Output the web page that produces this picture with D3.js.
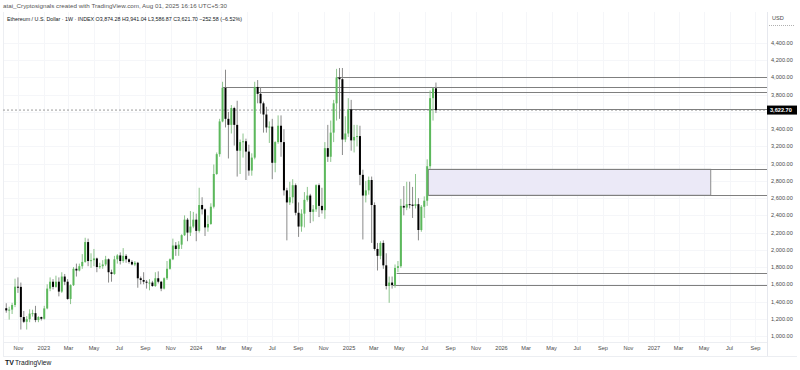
<!DOCTYPE html>
<html><head><meta charset="utf-8">
<script src="https://cdn.jsdelivr.net/npm/d3@7/dist/d3.min.js"></script>
<style>
body{margin:0;background:#fff}
svg{display:block;font-family:"Liberation Sans",Arial,sans-serif}
</style>
</head><body>
<svg id="chart" width="800" height="370"></svg>
<script>
// ---------- DATA ----------
const weeks = [
 "2022-10-03","2022-10-10","2022-10-17","2022-10-24","2022-10-31","2022-11-07","2022-11-14","2022-11-21","2022-11-28","2022-12-05","2022-12-12","2022-12-19","2022-12-26",
 "2023-01-02","2023-01-09","2023-01-16","2023-01-23","2023-01-30","2023-02-06","2023-02-13","2023-02-20","2023-02-27","2023-03-06","2023-03-13","2023-03-20","2023-03-27","2023-04-03","2023-04-10","2023-04-17","2023-04-24","2023-05-01","2023-05-08","2023-05-15","2023-05-22","2023-05-29","2023-06-05","2023-06-12","2023-06-19","2023-06-26","2023-07-03","2023-07-10","2023-07-17","2023-07-24","2023-07-31","2023-08-07","2023-08-14","2023-08-21","2023-08-28","2023-09-04","2023-09-11","2023-09-18","2023-09-25","2023-10-02","2023-10-09","2023-10-16","2023-10-23","2023-10-30","2023-11-06","2023-11-13","2023-11-20","2023-11-27","2023-12-04","2023-12-11","2023-12-18","2023-12-25",
 "2024-01-01","2024-01-08","2024-01-15","2024-01-22","2024-01-29","2024-02-05","2024-02-12","2024-02-19","2024-02-26","2024-03-04","2024-03-11","2024-03-18","2024-03-25","2024-04-01","2024-04-08","2024-04-15","2024-04-22","2024-04-29","2024-05-06","2024-05-13","2024-05-20","2024-05-27","2024-06-03","2024-06-10","2024-06-17","2024-06-24","2024-07-01","2024-07-08","2024-07-15","2024-07-22","2024-07-29","2024-08-05","2024-08-12","2024-08-19","2024-08-26","2024-09-02","2024-09-09","2024-09-16","2024-09-23","2024-09-30","2024-10-07","2024-10-14","2024-10-21","2024-10-28","2024-11-04","2024-11-11","2024-11-18","2024-11-25","2024-12-02","2024-12-09","2024-12-16","2024-12-23","2024-12-30",
 "2025-01-06","2025-01-13","2025-01-20","2025-01-27","2025-02-03","2025-02-10","2025-02-17","2025-02-24","2025-03-03","2025-03-10","2025-03-17","2025-03-24","2025-03-31","2025-04-07","2025-04-14","2025-04-21","2025-04-28","2025-05-05","2025-05-12","2025-05-19","2025-05-26","2025-06-02","2025-06-09","2025-06-16","2025-06-23","2025-06-30","2025-07-07","2025-07-14","2025-07-21","2025-07-28"
];
const open = [
 1322,1297,1306,1360,1572,1570,1220,1165,1195,1260,1265,1185,1220,
 1200,1320,1550,1630,1570,1630,1515,1690,1630,1430,1590,1780,1760,1810,1860,2090,1870,1880,1900,1800,1810,1830,1890,1740,1720,1890,1935,1870,1930,1890,1860,1830,1850,1670,1650,1630,1620,1620,1580,1670,1630,1550,1670,1780,1890,2050,2010,2060,2170,2350,2200,2270,
 2350,2220,2520,2470,2260,2300,2500,2880,3110,3490,3880,3520,3450,3645,3450,3150,3250,3260,3140,2920,3070,3890,3810,3700,3570,3420,3430,3010,3250,3440,3250,2690,2550,2610,2750,2430,2270,2420,2580,2630,2440,2470,2750,2510,2460,3180,3080,3360,3700,4000,3980,3280,3350,
 3630,3270,3310,3320,2870,2630,2690,2810,2520,2010,1930,2080,1820,1580,1620,1590,1790,1810,2510,2490,2530,2525,2510,2530,2230,2500,2570,2970,3760,3874.28
];
const high = [
 1380,1340,1385,1665,1680,1620,1290,1230,1310,1305,1350,1230,1225,
 1350,1600,1680,1660,1700,1680,1740,1720,1660,1600,1800,1840,1840,1950,2140,2130,1960,2010,1910,1850,1880,1930,1900,1770,1930,1950,1970,2020,1950,1900,1880,1870,1860,1690,1740,1650,1660,1640,1740,1750,1640,1680,1870,1900,2130,2090,2100,2180,2400,2370,2450,2440,
 2420,2720,2610,2480,2400,2540,2990,3130,3520,3950,4090,3600,3680,3660,3730,3280,3350,3290,3220,3120,3950,3970,3890,3720,3660,3490,3520,3260,3560,3560,3400,2720,2790,2820,2770,2550,2470,2670,2730,2650,2520,2760,2770,2720,3250,3450,3500,3740,4100,4110,4110,3550,3760,
 3740,3450,3450,3440,2930,2800,2850,2850,2550,2080,2100,2110,1960,1690,1690,1830,1870,2590,2740,2790,2790,2730,2880,2600,2520,2620,3050,3850,3880,3941.04
];
const low = [
 1270,1190,1255,1335,1500,1075,1150,1075,1160,1225,1160,1160,1180,
 1190,1310,1520,1540,1560,1460,1500,1590,1420,1370,1580,1690,1750,1780,1850,1810,1790,1810,1740,1780,1780,1810,1620,1630,1710,1840,1830,1850,1850,1840,1820,1810,1560,1600,1600,1550,1530,1570,1570,1610,1520,1540,1650,1770,1880,1930,1930,2010,2160,2100,2160,2250,
 2100,2200,2410,2160,2210,2290,2480,2870,3080,3480,3420,3060,3350,3210,2850,2880,3070,2810,2860,2860,3050,3700,3580,3360,3360,3240,2820,2900,3230,3080,2630,2110,2520,2540,2400,2150,2210,2260,2560,2310,2330,2440,2380,2420,2360,3020,3020,3250,3500,3520,3100,3250,3310,
 3150,3130,3200,2750,2120,2550,2640,2080,1990,1760,1890,1780,1540,1385,1550,1560,1740,1790,2400,2460,2480,2370,2480,2110,2210,2370,2510,2940,3500,3586.87
];
const close = [
 1297,1306,1360,1572,1570,1220,1165,1195,1260,1265,1185,1220,1200,
 1320,1550,1630,1570,1630,1515,1690,1630,1430,1590,1780,1760,1810,1860,2090,1870,1880,1900,1800,1810,1830,1890,1740,1720,1890,1935,1870,1930,1890,1860,1830,1850,1670,1650,1630,1620,1620,1580,1670,1630,1550,1670,1780,1890,2050,2010,2060,2170,2350,2200,2270,2350,
 2220,2520,2470,2260,2300,2500,2880,3110,3490,3880,3520,3450,3645,3450,3150,3250,3260,3140,2920,3070,3890,3810,3700,3570,3420,3430,3010,3250,3440,3250,2690,2550,2610,2750,2430,2270,2420,2580,2630,2440,2470,2750,2510,2460,3180,3080,3360,3700,4000,3980,3280,3350,3630,
 3270,3310,3320,2870,2630,2690,2810,2520,2010,1930,2080,1820,1580,1620,1590,1790,1810,2510,2490,2530,2525,2510,2530,2230,2500,2570,2970,3760,3874.28,3621.70
];
const gridPrices = [1000,1200,1400,1600,1800,2000,2200,2400,2600,2800,3000,3200,3400,3600,3800,4000,4200,4400];
const priceTickLabels = [1000,1200,1400,1600,1800,2000,2200,2400,2600,2800,3000,3200,3400,3800,4000,4200,4400];
const timeTicks = ["2022-11-01","2023-01-01","2023-03-01","2023-05-01","2023-07-01","2023-09-01","2023-11-01","2024-01-01","2024-03-01","2024-05-01","2024-07-01","2024-09-01","2024-11-01","2025-01-01","2025-03-01","2025-05-01","2025-07-01","2025-09-01","2025-11-01","2026-01-01","2026-03-01","2026-05-01","2026-07-01","2026-09-01","2026-11-01","2027-01-01","2027-03-01","2027-05-01","2027-07-01","2027-09-01"];
const timeTickLabels = ["Nov","2023","Mar","May","Jul","Sep","Nov","2024","Mar","May","Jul","Sep","Nov","2025","Mar","May","Jul","Sep","Nov","2026","Mar","May","Jul","Sep","Nov","2027","Mar","May","Jul","Sep"];
// horizontal rays: price level and start week
const rayPrices = [4010, 3886, 3828, 3630, 2934, 2633, 1734, 1590];
const rayStarts = ["2024-12-02","2024-03-04","2024-05-27","2024-12-30","2025-07-10","2025-07-10","2025-04-25","2025-04-16"];
// zone rectangle
const zoneTop = 2934, zoneBottom = 2633, zoneStart = "2025-07-10", zoneEnd = "2027-05-17";
const lastPrice = 3621.70, lastPriceLabel = "3,622.70";
const titleLine1 = "atai_Cryptosignals created with TradingView.com, Aug 01, 2025 16:16 UTC+5:30";
const titleLine2 = "Ethereum / U.S. Dollar · 1W · INDEX  O3,874.28 H3,941.04 L3,586.87 C3,621.70 −252.58 (−6.52%)";

// ---------- LAYOUT ----------
const W = 800, H = 370;
const pane = {left: 3, right: 767, top: 12, bottom: 342};
const parse = d3.utcParse("%Y-%m-%d");
const svg = d3.select("#chart");

const x = d3.scaleUtc()
  .domain([parse("2022-09-30"), parse("2027-09-12")])
  .range([5, 760]);
const y = d3.scaleLinear().domain([1000, 4400]).range([336, 43]);

const candles = weeks.map((w,i)=>({d: parse(w), o: open[i], h: high[i], l: low[i], c: close[i]}));

// grid
const grid = svg.append("g");
grid.selectAll("line.h").data(gridPrices).join("line")
  .attr("x1", pane.left).attr("x2", pane.right)
  .attr("y1", d=>Math.round(y(d))+0.5).attr("y2", d=>Math.round(y(d))+0.5)
  .attr("stroke", "#f5f6f9").attr("stroke-width", 1);
grid.selectAll("line.v").data(timeTicks).join("line")
  .attr("x1", d=>Math.round(x(parse(d)))+0.5).attr("x2", d=>Math.round(x(parse(d)))+0.5)
  .attr("y1", pane.top).attr("y2", pane.bottom)
  .attr("stroke", "#f5f6f9").attr("stroke-width", 1);

// pane borders
svg.append("line").attr("x1", pane.left+0.5).attr("x2", pane.left+0.5)
  .attr("y1", pane.top).attr("y2", 356).attr("stroke", "#eceef2");
svg.append("line").attr("x1", pane.left).attr("x2", pane.right)
  .attr("y1", pane.bottom+0.5).attr("y2", pane.bottom+0.5).attr("stroke", "#eceef2");
svg.append("line").attr("x1", pane.right+0.5).attr("x2", pane.right+0.5)
  .attr("y1", pane.top).attr("y2", 356).attr("stroke", "#e6e8ee");
svg.append("line").attr("x1", pane.left).attr("x2", W-3)
  .attr("y1", 356.5).attr("y2", 356.5).attr("stroke", "#eceef2");

const clipId = "paneClip";
svg.append("clipPath").attr("id", clipId).append("rect")
  .attr("x", pane.left).attr("y", pane.top).attr("width", pane.right-pane.left).attr("height", pane.bottom-pane.top);
const plot = svg.append("g").attr("clip-path", `url(#${clipId})`);

// current price dashed line
plot.append("line")
  .attr("x1", pane.left).attr("x2", pane.right)
  .attr("y1", y(lastPrice)).attr("y2", y(lastPrice))
  .attr("stroke", "#9a9a9a").attr("stroke-width", 1).attr("stroke-dasharray", "2,2");

// zone rectangle
plot.append("rect")
  .attr("x", x(parse(zoneStart))).attr("y", y(zoneTop))
  .attr("width", x(parse(zoneEnd)) - x(parse(zoneStart)))
  .attr("height", y(zoneBottom) - y(zoneTop))
  .attr("fill", "#ebe9f7").attr("stroke", "#8c8c8c").attr("stroke-width", 1);

// rays
plot.selectAll("line.ray").data(rayPrices).join("line").attr("class","ray")
  .attr("x1", (d,i)=>x(parse(rayStarts[i]))).attr("x2", pane.right)
  .attr("y1", d=>Math.round(y(d))+0.5).attr("y2", d=>Math.round(y(d))+0.5)
  .attr("stroke", "#7f7f7f").attr("stroke-width", 1);

// candles
const up = "#5cb85c", down = "#000000";
const cg = plot.append("g");
cg.selectAll("line.wick").data(candles).join("line").attr("class","wick")
  .attr("x1", d=>x(d.d)).attr("x2", d=>x(d.d))
  .attr("y1", d=>y(d.h)).attr("y2", d=>y(d.l))
  .attr("stroke", d=> d.c >= d.o ? "#8cc48c" : "#8a8a8a").attr("stroke-width", 1);
cg.selectAll("rect.body").data(candles).join("rect").attr("class","body")
  .attr("x", d=>x(d.d)-1).attr("width", 2)
  .attr("y", d=>y(Math.max(d.o,d.c)))
  .attr("height", d=>Math.max(1, Math.abs(y(d.o)-y(d.c))))
  .attr("fill", d=> d.c >= d.o ? up : down);

// price axis
const pa = svg.append("g").attr("font-size", 5.6).attr("fill", "#4a4a4a");
pa.selectAll("text").data(priceTickLabels).join("text")
  .attr("x", 771).attr("y", d=>y(d)+2)
  .text(d=>d3.format(",.2f")(d));
svg.append("text").attr("x", 772).attr("y", 20).attr("font-size", 5.6).attr("fill", "#4a4a4a").text("USD");
svg.append("line").attr("x1", 769).attr("x2", 794).attr("y1", 25.5).attr("y2", 25.5)
  .attr("stroke", "#b0b0b0").attr("stroke-dasharray", "1,1");
// last price label
svg.append("rect").attr("x", 767).attr("y", y(lastPrice)-4.5).attr("width", 30).attr("height", 9).attr("fill", "#000");
svg.append("text").attr("x", 770).attr("y", y(lastPrice)+2).attr("font-size", 5.6)
  .attr("fill", "#fff").attr("font-weight", "bold").text(lastPriceLabel);

// time axis
const ta = svg.append("g").attr("font-size", 5.6).attr("fill", "#4a4a4a").attr("text-anchor", "middle");
ta.selectAll("text").data(timeTicks).join("text")
  .attr("x", d=>x(parse(d))).attr("y", 350)
  .text((d,i)=>timeTickLabels[i]);

// header
svg.append("text").attr("x", 3).attr("y", 8).attr("font-size", 5.4).attr("fill", "#555")
  .attr("textLength", 224).attr("lengthAdjust", "spacingAndGlyphs").text(titleLine1);
svg.append("text").attr("x", 7).attr("y", 20.5).attr("font-size", 5.4).attr("fill", "#131722")
  .attr("textLength", 235).attr("lengthAdjust", "spacingAndGlyphs").text(titleLine2);

// TradingView logo
svg.append("text").attr("x", 5).attr("y", 365).attr("font-size", 7).attr("font-weight", "900").attr("fill", "#131722").text("TV");
svg.append("text").attr("x", 15).attr("y", 365).attr("font-size", 6.6).attr("fill", "#131722").text("TradingView");
</script>
</body></html>
